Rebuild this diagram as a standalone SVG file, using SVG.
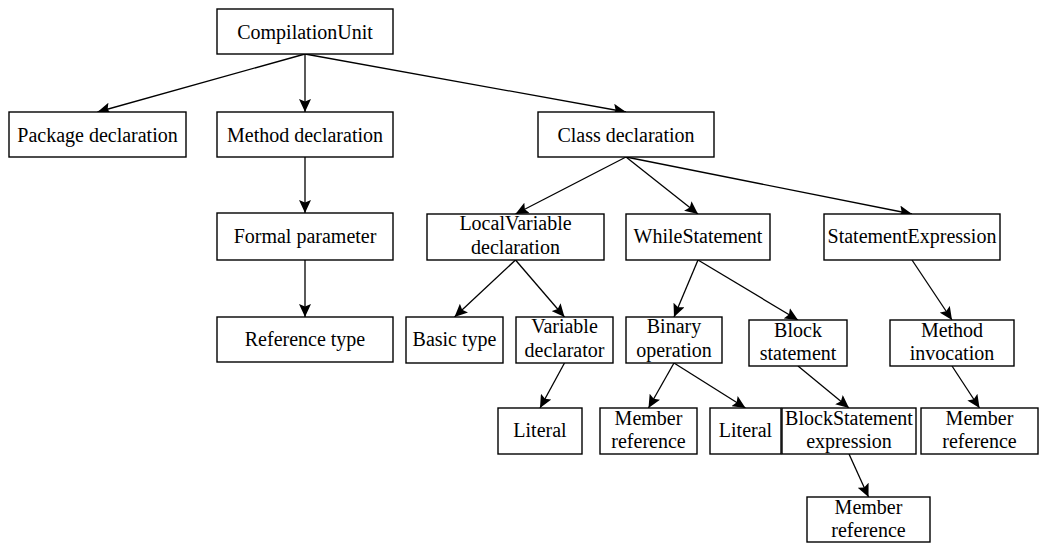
<svg xmlns="http://www.w3.org/2000/svg" width="1040" height="543" viewBox="0 0 1040 543">
<style>
.box{fill:#fff;stroke:#000;stroke-width:1.4}
.t{font-size:20px;fill:#000;text-anchor:middle}
.e{stroke:#000;stroke-width:1.3;fill:none;marker-end:url(#ah)}
</style>
<defs>
<marker id="ah" markerUnits="userSpaceOnUse" markerWidth="14" markerHeight="12" viewBox="0 0 14 12" refX="13" refY="6" orient="auto">
<path d="M0,0 L13,6 L0,12 L2.5,6 z" fill="#000"/>
</marker>
</defs>
<rect width="1040" height="543" fill="#fff"/>
<g id="connectors">
<line class="e" x1="305" y1="54" x2="97.5" y2="112"/>
<line class="e" x1="305" y1="54" x2="305" y2="112"/>
<line class="e" x1="305" y1="54" x2="626" y2="112"/>
<line class="e" x1="305" y1="157" x2="305" y2="213"/>
<line class="e" x1="305" y1="260" x2="305" y2="317"/>
<line class="e" x1="626" y1="157" x2="515.5" y2="214"/>
<line class="e" x1="626" y1="157" x2="698" y2="214"/>
<line class="e" x1="626" y1="157" x2="912" y2="214"/>
<line class="e" x1="515.5" y1="260" x2="454.5" y2="317"/>
<line class="e" x1="515.5" y1="260" x2="564.5" y2="317"/>
<line class="e" x1="698" y1="260" x2="674" y2="317"/>
<line class="e" x1="698" y1="260" x2="798" y2="320"/>
<line class="e" x1="912" y1="260" x2="952" y2="320"/>
<line class="e" x1="564.5" y1="363" x2="540" y2="408"/>
<line class="e" x1="674" y1="363" x2="648.5" y2="408"/>
<line class="e" x1="674" y1="363" x2="745.5" y2="408"/>
<line class="e" x1="798" y1="366" x2="849" y2="408"/>
<line class="e" x1="952" y1="366" x2="979.5" y2="408"/>
<line class="e" x1="849" y1="454" x2="868.5" y2="497"/>
</g>
<g font-family="Liberation Serif, Times New Roman, serif">
<g id="compilationUnit"><rect class="box" x="217" y="9" width="176" height="45"/><text class="t" x="305" y="39">CompilationUnit</text></g>
<g id="packageDecl"><rect class="box" x="9" y="112" width="177" height="45"/><text class="t" x="97.5" y="142">Package declaration</text></g>
<g id="methodDecl"><rect class="box" x="217" y="112" width="176" height="45"/><text class="t" x="305" y="142">Method declaration</text></g>
<g id="classDecl"><rect class="box" x="538" y="112" width="176" height="45"/><text class="t" x="626" y="142">Class declaration</text></g>
<g id="formalParam"><rect class="box" x="217" y="213" width="176" height="47"/><text class="t" x="305" y="243">Formal parameter</text></g>
<g id="localVarDecl"><rect class="box" x="427" y="214" width="177" height="46"/><text class="t" x="515.5" y="230">LocalVariable</text><text class="t" x="515.5" y="254">declaration</text></g>
<g id="whileStmt"><rect class="box" x="626" y="214" width="144" height="46"/><text class="t" x="698" y="243">WhileStatement</text></g>
<g id="stmtExpr"><rect class="box" x="824" y="214" width="176" height="46"/><text class="t" x="912" y="243">StatementExpression</text></g>
<g id="referenceType"><rect class="box" x="217" y="317" width="176" height="45"/><text class="t" x="305" y="346">Reference type</text></g>
<g id="basicType"><rect class="box" x="406" y="317" width="97" height="46"/><text class="t" x="454.5" y="346">Basic type</text></g>
<g id="varDeclarator"><rect class="box" x="516" y="317" width="97" height="46"/><text class="t" x="564.5" y="333">Variable</text><text class="t" x="564.5" y="357">declarator</text></g>
<g id="binaryOp"><rect class="box" x="626" y="317" width="96" height="46"/><text class="t" x="674" y="333">Binary</text><text class="t" x="674" y="357">operation</text></g>
<g id="blockStmt"><rect class="box" x="749" y="320" width="98" height="46"/><text class="t" x="798" y="337">Block</text><text class="t" x="798" y="360">statement</text></g>
<g id="methodInvocation"><rect class="box" x="890" y="320" width="124" height="46"/><text class="t" x="952" y="337">Method</text><text class="t" x="952" y="360">invocation</text></g>
<g id="literal1"><rect class="box" x="498" y="408" width="84" height="46"/><text class="t" x="540" y="437">Literal</text></g>
<g id="memberRef1"><rect class="box" x="600" y="408" width="97" height="46"/><text class="t" x="648.5" y="425">Member</text><text class="t" x="648.5" y="448">reference</text></g>
<g id="literal2"><rect class="box" x="710" y="408" width="71" height="46"/><text class="t" x="745.5" y="437">Literal</text></g>
<g id="blockStmtExpr"><rect class="box" x="782" y="408" width="134" height="46"/><text class="t" x="849" y="425">BlockStatement</text><text class="t" x="849" y="448">expression</text></g>
<g id="memberRef2"><rect class="box" x="921" y="408" width="117" height="46"/><text class="t" x="979.5" y="425">Member</text><text class="t" x="979.5" y="448">reference</text></g>
<g id="memberRef3"><rect class="box" x="807" y="497" width="123" height="45"/><text class="t" x="868.5" y="514">Member</text><text class="t" x="868.5" y="537">reference</text></g>
</g>
</svg>
